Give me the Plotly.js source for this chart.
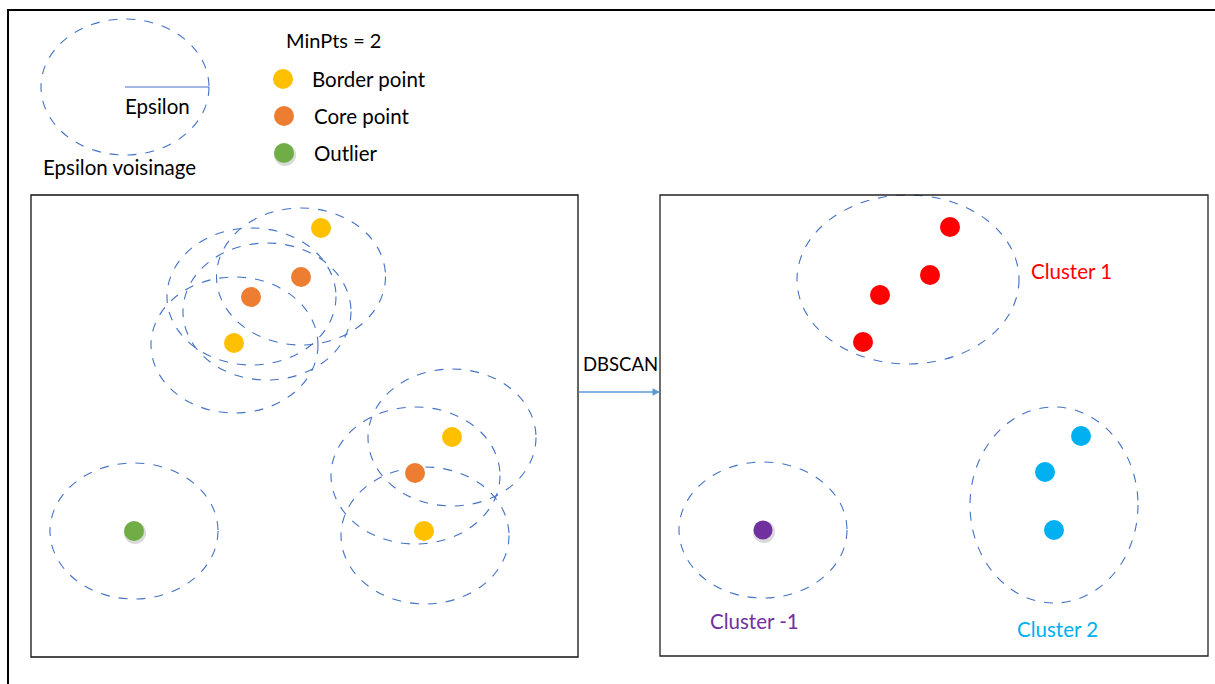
<!DOCTYPE html>
<html>
<head>
<meta charset="utf-8">
<script src="https://cdn.plot.ly/plotly-3.0.1.min.js"></script>
<style>html,body{margin:0;padding:0;background:#fff;}#chart{width:1215px;height:684px;}</style>
</head>
<body>
<div id="chart"></div>
<script>
// ---- data (page pixel coordinates) ----
const borderX = [321, 234, 452, 424];
const borderY = [228, 343, 437, 531];
const coreX = [301, 251, 415];
const coreY = [277, 297, 473];
const outlierX = [134];
const outlierY = [531];

const legendLabels = ["Border point", "Core point", "Outlier"];
const legendDotX = [283, 284, 284];
const legendDotY = [79, 116, 153];
const legendTextX = [310, 312, 312];

const cluster1X = [950, 930, 880, 863];
const cluster1Y = [227, 275, 295, 342];
const cluster2X = [1081, 1045, 1054];
const cluster2Y = [436, 472, 530];
const clusterNoiseX = [763];
const clusterNoiseY = [530];

// epsilon neighbourhoods: centre x, centre y, radius x, radius y
const epsCX = [125, 301, 251.5, 267, 234.5, 452, 415.5, 425, 134];
const epsCY = [87, 276.5, 296.5, 311.5, 345, 437.5, 475.5, 535.5, 531];
const epsRX = [84, 84.5, 84.5, 84, 83.5, 84, 84.5, 84, 84];
const epsRY = [68, 68.5, 68.5, 68.5, 68, 68.5, 68.5, 68.5, 68];

const clusterCX = [908, 763, 1054];
const clusterCY = [279.5, 530, 505];
const clusterRX = [111, 84, 84];
const clusterRY = [84.5, 68, 98];

const clusterLabels = ["Cluster 1", "Cluster -1", "Cluster 2"];
const clusterLabelX = [1029, 754, 1057];
const clusterLabelY = [271, 621, 629];

// ---- styles ----
const FONT = "Lato, 'Open Sans', sans-serif";
const YELLOW = "#FFC000", ORANGE = "#ED7D31", GREEN = "#70AD47";
const RED = "#FF0000", PURPLE = "#7030A0", CYAN = "#00B0F0";
const DASH = "#4472C4";

function pts(x, y, color, size) {
  return {type: "scatter", mode: "markers", x: x, y: y,
          marker: {color: color, size: size, line: {width: 0}},
          hoverinfo: "skip", showlegend: false};
}
function shadow(x, y) {
  return {type: "scatter", mode: "markers", x: x.map(v => v + 1), y: y.map(v => v + 2),
          marker: {color: "rgba(0,0,0,0.15)", size: 22, line: {width: 0}},
          hoverinfo: "skip", showlegend: false};
}

const traces = [
  shadow(outlierX, outlierY),
  shadow(clusterNoiseX, clusterNoiseY),
  shadow([legendDotX[2]], [legendDotY[2]]),
  pts(borderX, borderY, YELLOW, 20),
  pts(coreX, coreY, ORANGE, 20),
  pts(outlierX, outlierY, GREEN, 20),
  pts(legendDotX.slice(0, 1), legendDotY.slice(0, 1), YELLOW, 20),
  pts(legendDotX.slice(1, 2), legendDotY.slice(1, 2), ORANGE, 20),
  pts(legendDotX.slice(2, 3), legendDotY.slice(2, 3), GREEN, 20),
  pts(cluster1X, cluster1Y, RED, 20),
  pts(cluster2X, cluster2Y, CYAN, 20),
  pts(clusterNoiseX, clusterNoiseY, PURPLE, 19)
];

const shapes = [];
// outer frame (top and left edges)
shapes.push({type: "line", x0: 7, x1: 1215, y0: 10, y1: 10, line: {color: "#000", width: 2}});
shapes.push({type: "line", x0: 8, x1: 8, y0: 10, y1: 684, line: {color: "#000", width: 2}});
// panels
shapes.push({type: "rect", x0: 31, x1: 578, y0: 195, y1: 657, line: {color: "#111", width: 1.3}});
shapes.push({type: "rect", x0: 660, x1: 1208, y0: 195, y1: 656, line: {color: "#222", width: 1.3}});
// epsilon radius
shapes.push({type: "line", x0: epsCX[0], x1: epsCX[0] + epsRX[0], y0: epsCY[0], y1: epsCY[0],
             line: {color: DASH, width: 1.2}});
for (let i = 0; i < epsCX.length; i++) {
  shapes.push({type: "circle", layer: "below",
    x0: epsCX[i] - epsRX[i], x1: epsCX[i] + epsRX[i],
    y0: epsCY[i] - epsRY[i], y1: epsCY[i] + epsRY[i],
    line: {color: DASH, width: 1.1, dash: "dash"}});
}
for (let i = 0; i < clusterCX.length; i++) {
  shapes.push({type: "circle", layer: "below",
    x0: clusterCX[i] - clusterRX[i], x1: clusterCX[i] + clusterRX[i],
    y0: clusterCY[i] - clusterRY[i], y1: clusterCY[i] + clusterRY[i],
    line: {color: DASH, width: 1.1, dash: "dash"}});
}

const ann = [];
function txt(text, x, y, anchor, color, size) {
  ann.push({text: text, x: x, y: y, xref: "x", yref: "y", showarrow: false,
            xanchor: anchor, yanchor: "middle",
            font: {family: FONT, size: size || 20.5, color: color || "#000"}});
}
txt("MinPts = 2", 284, 40, "left", "#000", 20);
for (let i = 0; i < legendLabels.length; i++) txt(legendLabels[i], legendTextX[i], legendDotY[i], "left");
txt("Epsilon", 157, 106, "center");
txt("Epsilon voisinage", 119, 167, "center");
txt("DBSCAN", 620, 364, "center", "#000", 18.5);
const clusterColors = [RED, PURPLE, CYAN];
txt(clusterLabels[0], clusterLabelX[0], clusterLabelY[0], "left", clusterColors[0]);
txt(clusterLabels[1], clusterLabelX[1], clusterLabelY[1], "center", clusterColors[1]);
txt(clusterLabels[2], clusterLabelX[2], clusterLabelY[2], "center", clusterColors[2]);
// arrow
ann.push({x: 660, y: 392, ax: 577, ay: 392, xref: "x", yref: "y", axref: "x", ayref: "y",
          text: "", showarrow: true, arrowhead: 2, arrowsize: 1, arrowwidth: 1.5,
          arrowcolor: "#5B9BD5"});

const layout = {
  width: 1215, height: 684,
  margin: {l: 0, r: 0, t: 0, b: 0, pad: 0},
  paper_bgcolor: "#fff", plot_bgcolor: "#fff",
  xaxis: {range: [0, 1215], visible: false, fixedrange: true},
  yaxis: {range: [684, 0], visible: false, fixedrange: true},
  shapes: shapes, annotations: ann, showlegend: false
};
Plotly.newPlot("chart", traces, layout, {displayModeBar: false, staticPlot: true});
</script>
</body>
</html>
